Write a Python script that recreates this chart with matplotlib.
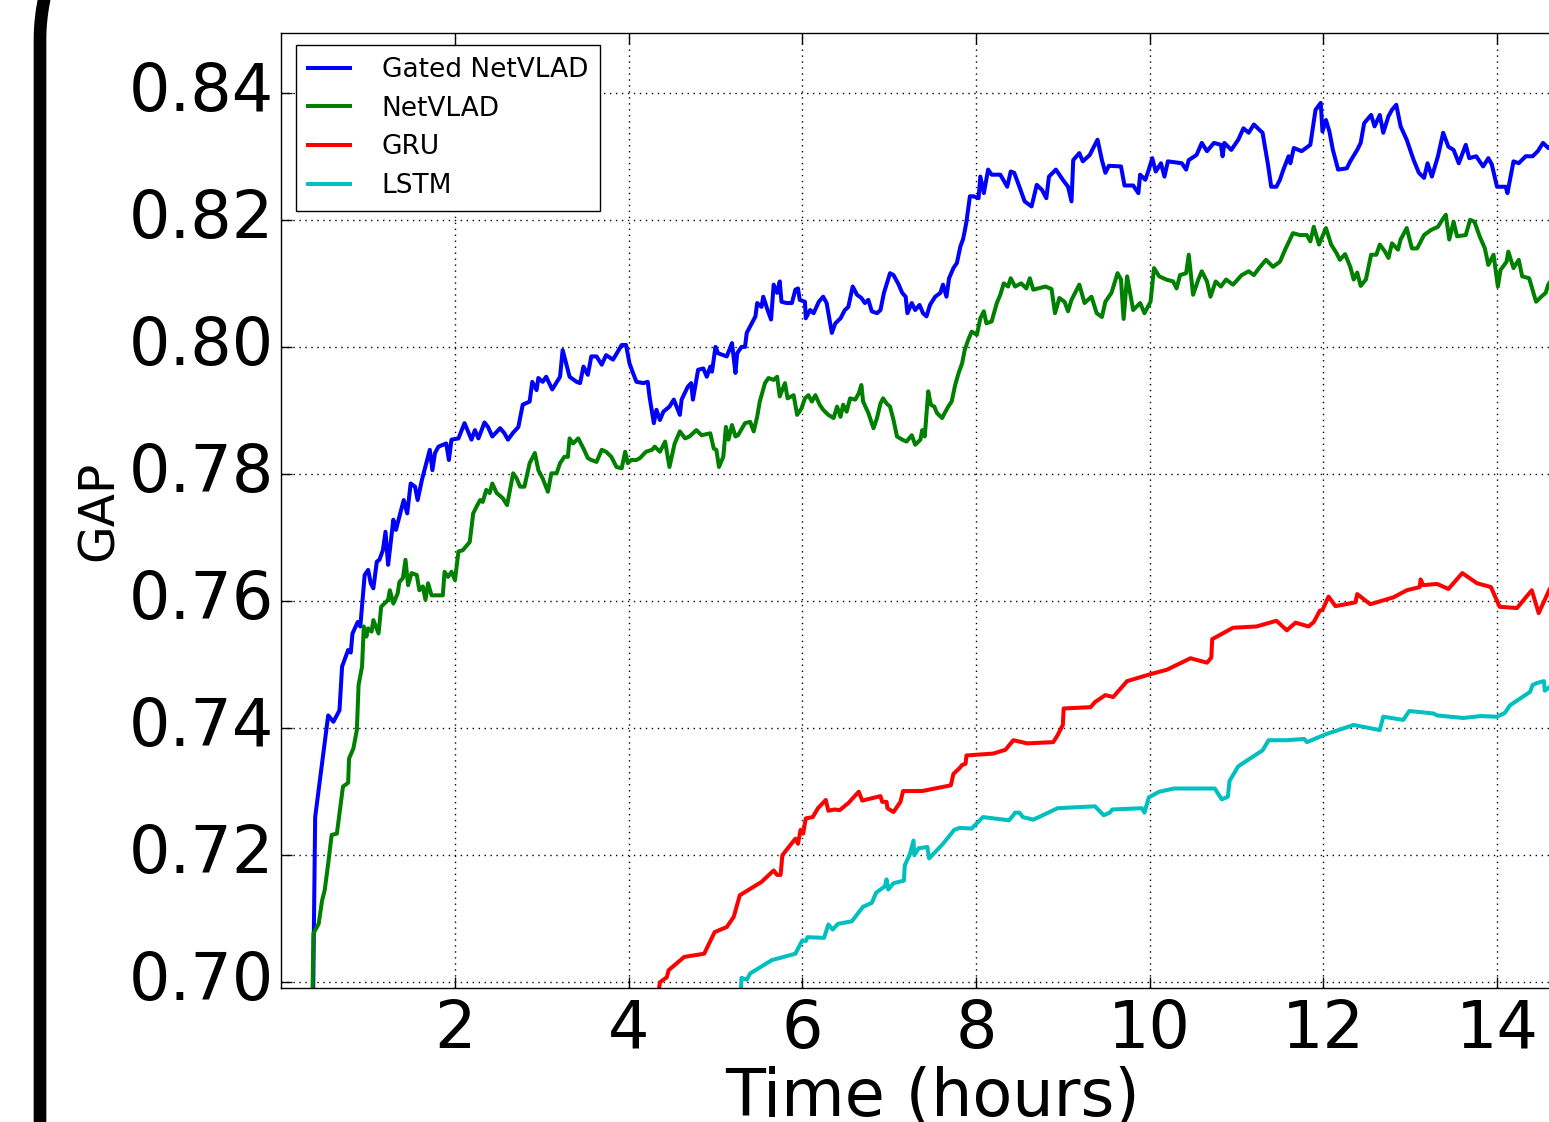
import numpy as np
import matplotlib
matplotlib.use("Agg")
import matplotlib.pyplot as plt
from matplotlib.lines import Line2D
from matplotlib.transforms import IdentityTransform

########################## data: GAP vs wall-clock training time ##########################
gated_hours = [
    0.36, 0.39, 0.54, 0.60, 0.67, 0.70, 0.77, 0.80, 0.82, 0.88,
    0.91, 0.96, 1.00, 1.03, 1.06, 1.10, 1.13, 1.17, 1.20, 1.23,
    1.25, 1.29, 1.32, 1.36, 1.41, 1.45, 1.49, 1.54, 1.57, 1.62,
    1.67, 1.71, 1.74, 1.77, 1.81, 1.90, 1.93, 1.96, 2.04, 2.11,
    2.19, 2.23, 2.27, 2.34, 2.38, 2.43, 2.52, 2.57, 2.61, 2.67,
    2.73, 2.78, 2.86, 2.89, 2.94, 2.96, 3.01, 3.05, 3.12, 3.21,
    3.24, 3.28, 3.32, 3.40, 3.44, 3.48, 3.53, 3.57, 3.63, 3.69,
    3.74, 3.82, 3.86, 3.92, 3.97, 4.01, 4.05, 4.09, 4.17, 4.22,
    4.24, 4.29, 4.32, 4.36, 4.40, 4.47, 4.52, 4.59, 4.61, 4.68,
    4.72, 4.74, 4.80, 4.86, 4.90, 4.94, 4.96, 5.00, 5.03, 5.13,
    5.19, 5.23, 5.25, 5.30, 5.34, 5.36, 5.46, 5.48, 5.53, 5.55,
    5.60, 5.64, 5.67, 5.71, 5.74, 5.76, 5.82, 5.88, 5.92, 5.95,
    5.97, 6.03, 6.04, 6.09, 6.13, 6.19, 6.24, 6.28, 6.34, 6.38,
    6.44, 6.49, 6.53, 6.58, 6.63, 6.68, 6.72, 6.76, 6.80, 6.86,
    6.90, 6.94, 7.01, 7.05, 7.11, 7.15, 7.19, 7.21, 7.26, 7.30,
    7.35, 7.39, 7.43, 7.47, 7.53, 7.59, 7.62, 7.66, 7.69, 7.74,
    7.78, 7.82, 7.85, 7.87, 7.89, 7.93, 7.97, 8.03, 8.05, 8.09,
    8.14, 8.18, 8.28, 8.36, 8.40, 8.44, 8.50, 8.56, 8.64, 8.70,
    8.76, 8.81, 8.84, 8.92, 9.00, 9.06, 9.10, 9.12, 9.19, 9.23,
    9.31, 9.35, 9.40, 9.45, 9.49, 9.53, 9.67, 9.71, 9.81, 9.87,
    9.89, 9.95, 9.99, 10.03, 10.07, 10.13, 10.17, 10.21, 10.37, 10.42,
    10.45, 10.54, 10.60, 10.66, 10.74, 10.82, 10.84, 10.86, 10.94, 11.02,
    11.08, 11.14, 11.20, 11.26, 11.30, 11.36, 11.40, 11.46, 11.50, 11.54,
    11.60, 11.62, 11.66, 11.75, 11.85, 11.91, 11.97, 11.99, 12.03, 12.07,
    12.11, 12.17, 12.27, 12.31, 12.39, 12.43, 12.47, 12.55, 12.59, 12.65,
    12.69, 12.75, 12.79, 12.84, 12.89, 12.96, 13.04, 13.10, 13.16, 13.20,
    13.25, 13.32, 13.38, 13.44, 13.50, 13.56, 13.64, 13.68, 13.76, 13.84,
    13.90, 13.94, 14.00, 14.10, 14.12, 14.19, 14.25, 14.33, 14.41, 14.47,
    14.53, 14.59, 14.65]
gated_gap = [
    0.690, 0.7260, 0.7420, 0.7410, 0.7428, 0.7497, 0.7523, 0.7519, 0.7549, 0.7567,
    0.7560, 0.7641, 0.7649, 0.7628, 0.7620, 0.7662, 0.7665, 0.7680, 0.7709, 0.7657,
    0.7680, 0.7728, 0.7712, 0.7733, 0.7759, 0.7738, 0.7785, 0.7780, 0.7759, 0.7791,
    0.7817, 0.7838, 0.7806, 0.7833, 0.7843, 0.7848, 0.7822, 0.7854, 0.7856, 0.7880,
    0.7854, 0.7869, 0.7856, 0.7881, 0.7874, 0.7859, 0.7872, 0.7864, 0.7854, 0.7865,
    0.7874, 0.7909, 0.7914, 0.7945, 0.7932, 0.7951, 0.7945, 0.7953, 0.7933, 0.7953,
    0.7995, 0.7974, 0.7953, 0.7945, 0.7943, 0.7969, 0.7956, 0.7985, 0.7985, 0.7972,
    0.7987, 0.7980, 0.7989, 0.8003, 0.8003, 0.7974, 0.7959, 0.7945, 0.7943, 0.7945,
    0.7922, 0.7880, 0.7901, 0.7885, 0.7898, 0.7906, 0.7917, 0.7893, 0.7917, 0.7937,
    0.7943, 0.7917, 0.7964, 0.7966, 0.7953, 0.7969, 0.7961, 0.8000, 0.7990, 0.7985,
    0.8006, 0.7959, 0.7990, 0.8000, 0.8000, 0.8022, 0.8048, 0.8069, 0.8063, 0.8079,
    0.8058, 0.8043, 0.8098, 0.8085, 0.8103, 0.8071, 0.8069, 0.8069, 0.8090, 0.8092,
    0.8074, 0.8071, 0.8045, 0.8058, 0.8053, 0.8071, 0.8079, 0.8069, 0.8022, 0.8037,
    0.8045, 0.8058, 0.8063, 0.8095, 0.8082, 0.8077, 0.8069, 0.8074, 0.8056, 0.8053,
    0.8058, 0.8085, 0.8116, 0.8113, 0.8098, 0.8085, 0.8079, 0.8053, 0.8069, 0.8058,
    0.8066, 0.8053, 0.8048, 0.8066, 0.8079, 0.8085, 0.8098, 0.8079, 0.8108, 0.8124,
    0.8132, 0.8158, 0.8169, 0.8182, 0.8197, 0.8237, 0.8237, 0.8234, 0.8268, 0.8242,
    0.8279, 0.8271, 0.8271, 0.8252, 0.8276, 0.8274, 0.8252, 0.8229, 0.8221, 0.8255,
    0.8247, 0.8234, 0.8268, 0.8279, 0.8263, 0.8252, 0.8229, 0.8294, 0.8305, 0.8292,
    0.8302, 0.8313, 0.8326, 0.8294, 0.8274, 0.8285, 0.8284, 0.8254, 0.8254, 0.8242,
    0.8271, 0.8263, 0.8279, 0.8297, 0.8276, 0.8289, 0.8268, 0.8292, 0.8289, 0.8279,
    0.8294, 0.8302, 0.8321, 0.8308, 0.8321, 0.8318, 0.8300, 0.8321, 0.8310, 0.8326,
    0.8344, 0.8337, 0.8350, 0.8342, 0.8337, 0.8289, 0.8252, 0.8252, 0.8263, 0.8279,
    0.8300, 0.8289, 0.8313, 0.8308, 0.8318, 0.8373, 0.8384, 0.8339, 0.8357, 0.8339,
    0.8310, 0.8279, 0.8281, 0.8292, 0.8310, 0.8321, 0.8352, 0.8365, 0.8347, 0.8365,
    0.8337, 0.8363, 0.8373, 0.8381, 0.8347, 0.8326, 0.8294, 0.8274, 0.8266, 0.8289,
    0.8268, 0.8300, 0.8337, 0.8315, 0.8310, 0.8289, 0.8318, 0.8297, 0.8300, 0.8284,
    0.8297, 0.8287, 0.8252, 0.8252, 0.8242, 0.8292, 0.8289, 0.8300, 0.8300, 0.8308,
    0.8321, 0.8313, 0.8320]

netvlad_hours = [
    0.35, 0.37, 0.43, 0.47, 0.50, 0.54, 0.58, 0.64, 0.68, 0.71,
    0.77, 0.78, 0.83, 0.87, 0.89, 0.93, 0.95, 0.98, 1.00, 1.04,
    1.06, 1.12, 1.15, 1.23, 1.25, 1.29, 1.34, 1.36, 1.40, 1.43,
    1.46, 1.50, 1.56, 1.59, 1.63, 1.66, 1.69, 1.73, 1.86, 1.88,
    1.92, 1.96, 2.00, 2.04, 2.09, 2.17, 2.21, 2.25, 2.29, 2.32,
    2.36, 2.40, 2.43, 2.48, 2.55, 2.60, 2.67, 2.71, 2.75, 2.80,
    2.86, 2.92, 2.96, 3.01, 3.07, 3.11, 3.17, 3.21, 3.26, 3.30,
    3.32, 3.36, 3.42, 3.48, 3.53, 3.57, 3.63, 3.69, 3.74, 3.80,
    3.86, 3.92, 3.96, 3.99, 4.03, 4.09, 4.13, 4.20, 4.27, 4.30,
    4.36, 4.42, 4.47, 4.53, 4.59, 4.65, 4.70, 4.78, 4.84, 4.94,
    4.98, 5.01, 5.04, 5.09, 5.12, 5.15, 5.19, 5.23, 5.26, 5.34,
    5.40, 5.44, 5.48, 5.51, 5.57, 5.61, 5.67, 5.71, 5.74, 5.80,
    5.83, 5.90, 5.94, 5.99, 6.03, 6.07, 6.11, 6.15, 6.20, 6.24,
    6.30, 6.36, 6.40, 6.44, 6.47, 6.51, 6.55, 6.61, 6.65, 6.68,
    6.70, 6.76, 6.82, 6.86, 6.90, 6.93, 6.97, 7.01, 7.05, 7.09,
    7.15, 7.20, 7.26, 7.30, 7.36, 7.38, 7.41, 7.45, 7.48, 7.52,
    7.55, 7.61, 7.64, 7.68, 7.72, 7.76, 7.80, 7.84, 7.87, 7.91,
    7.95, 8.01, 8.05, 8.09, 8.12, 8.18, 8.24, 8.28, 8.32, 8.37,
    8.40, 8.45, 8.52, 8.58, 8.62, 8.66, 8.80, 8.87, 8.91, 8.96,
    9.02, 9.06, 9.10, 9.19, 9.25, 9.33, 9.39, 9.45, 9.49, 9.56,
    9.63, 9.67, 9.70, 9.74, 9.81, 9.89, 9.94, 10.01, 10.05, 10.11,
    10.19, 10.27, 10.31, 10.35, 10.42, 10.45, 10.50, 10.56, 10.60, 10.66,
    10.70, 10.76, 10.82, 10.88, 10.96, 11.06, 11.14, 11.20, 11.26, 11.34,
    11.42, 11.50, 11.56, 11.65, 11.73, 11.81, 11.85, 11.89, 11.95, 12.03,
    12.09, 12.15, 12.19, 12.25, 12.31, 12.35, 12.39, 12.43, 12.49, 12.55,
    12.61, 12.65, 12.71, 12.75, 12.79, 12.86, 12.89, 12.96, 13.02, 13.08,
    13.16, 13.24, 13.32, 13.37, 13.41, 13.45, 13.50, 13.54, 13.64, 13.69,
    13.74, 13.80, 13.86, 13.90, 13.96, 14.01, 14.04, 14.11, 14.13, 14.19,
    14.25, 14.29, 14.37, 14.45, 14.51, 14.56, 14.59, 14.65]
netvlad_gap = [
    0.690, 0.7077, 0.7092, 0.7129, 0.7145, 0.7187, 0.7232, 0.7234, 0.7276, 0.7308,
    0.7314, 0.7352, 0.7368, 0.7397, 0.7468, 0.7497, 0.7560, 0.7544, 0.7557, 0.7552,
    0.7570, 0.7549, 0.7591, 0.7602, 0.7617, 0.7596, 0.7612, 0.7630, 0.7636, 0.7665,
    0.7625, 0.7644, 0.7641, 0.7617, 0.7623, 0.7602, 0.7628, 0.7609, 0.7609, 0.7646,
    0.7638, 0.7646, 0.7633, 0.7678, 0.7680, 0.7693, 0.7738, 0.7749, 0.7759, 0.7756,
    0.7775, 0.7770, 0.7785, 0.7770, 0.7762, 0.7751, 0.7801, 0.7793, 0.7780, 0.7780,
    0.7817, 0.7833, 0.7806, 0.7793, 0.7772, 0.7801, 0.7801, 0.7817, 0.7827, 0.7827,
    0.7856, 0.7848, 0.7856, 0.7840, 0.7825, 0.7822, 0.7819, 0.7838, 0.7835, 0.7827,
    0.7811, 0.7809, 0.7835, 0.7817, 0.7822, 0.7822, 0.7825, 0.7835, 0.7838, 0.7843,
    0.7835, 0.7851, 0.7811, 0.7848, 0.7867, 0.7856, 0.7859, 0.7869, 0.7861, 0.7864,
    0.7840, 0.7838, 0.7811, 0.7827, 0.7874, 0.7854, 0.7877, 0.7859, 0.7861, 0.7880,
    0.7882, 0.7867, 0.7890, 0.7914, 0.7943, 0.7951, 0.7948, 0.7953, 0.7922, 0.7943,
    0.7919, 0.7924, 0.7893, 0.7903, 0.7919, 0.7924, 0.7914, 0.7924, 0.7909, 0.7901,
    0.7893, 0.7888, 0.7906, 0.7890, 0.7909, 0.7898, 0.7919, 0.7917, 0.7927, 0.7940,
    0.7914, 0.7896, 0.7872, 0.7888, 0.7911, 0.7919, 0.7911, 0.7906, 0.7885, 0.7859,
    0.7854, 0.7851, 0.7861, 0.7846, 0.7854, 0.7869, 0.7859, 0.7930, 0.7909, 0.7906,
    0.7896, 0.7888, 0.7896, 0.7906, 0.7914, 0.7940, 0.7959, 0.7974, 0.7995, 0.8011,
    0.8024, 0.8019, 0.8045, 0.8056, 0.8037, 0.8040, 0.8069, 0.8082, 0.8100, 0.8095,
    0.8108, 0.8095, 0.8100, 0.8092, 0.8108, 0.8090, 0.8095, 0.8091, 0.8053, 0.8077,
    0.8071, 0.8056, 0.8074, 0.8098, 0.8069, 0.8079, 0.8053, 0.8047, 0.8071, 0.8085,
    0.8116, 0.8106, 0.8044, 0.8111, 0.8058, 0.8069, 0.8053, 0.8071, 0.8124, 0.8111,
    0.8106, 0.8103, 0.8092, 0.8113, 0.8116, 0.8145, 0.8082, 0.8106, 0.8119, 0.8103,
    0.8079, 0.8103, 0.8095, 0.8106, 0.8098, 0.8113, 0.8119, 0.8113, 0.8124, 0.8137,
    0.8126, 0.8134, 0.8153, 0.8179, 0.8176, 0.8176, 0.8166, 0.8189, 0.8161, 0.8187,
    0.8161, 0.8148, 0.8137, 0.8146, 0.8126, 0.8106, 0.8117, 0.8096, 0.8106, 0.8145,
    0.8145, 0.8161, 0.8150, 0.8140, 0.8163, 0.8153, 0.8169, 0.8187, 0.8155, 0.8155,
    0.8176, 0.8184, 0.8189, 0.8200, 0.8208, 0.8169, 0.8197, 0.8174, 0.8176, 0.8200,
    0.8197, 0.8174, 0.8155, 0.8129, 0.8145, 0.8095, 0.8121, 0.8134, 0.8150, 0.8124,
    0.8137, 0.8111, 0.8108, 0.8071, 0.8079, 0.8085, 0.8098, 0.8110]

gru_hours = [
    4.34, 4.36, 4.44, 4.46, 4.64, 4.87, 4.99, 5.13, 5.21, 5.28,
    5.53, 5.67, 5.71, 5.75, 5.77, 5.92, 5.95, 5.98, 6.01, 6.04,
    6.12, 6.18, 6.27, 6.30, 6.37, 6.43, 6.53, 6.65, 6.69, 6.90,
    6.92, 6.97, 6.98, 7.05, 7.13, 7.16, 7.38, 7.71, 7.74, 7.81,
    7.84, 7.88, 7.89, 8.20, 8.34, 8.43, 8.59, 8.89, 8.94, 9.00,
    9.01, 9.32, 9.37, 9.49, 9.58, 9.74, 10.01, 10.20, 10.47, 10.66,
    10.71, 10.72, 10.96, 11.23, 11.46, 11.58, 11.68, 11.83, 11.89, 11.96,
    11.99, 12.06, 12.14, 12.37, 12.39, 12.54, 12.81, 12.96, 13.11, 13.12,
    13.15, 13.31, 13.44, 13.60, 13.77, 13.93, 14.03, 14.23, 14.40, 14.48,
    14.60, 14.65]
gru_gap = [
    0.698, 0.7000, 0.7008, 0.7019, 0.7040, 0.7045, 0.7079, 0.7087, 0.7103, 0.7137,
    0.7158, 0.7176, 0.7169, 0.7169, 0.7200, 0.7226, 0.7218, 0.7240, 0.7234, 0.7258,
    0.7260, 0.7274, 0.7287, 0.7270, 0.7272, 0.7271, 0.7282, 0.7300, 0.7286, 0.7293,
    0.7284, 0.7284, 0.7274, 0.7268, 0.7284, 0.7301, 0.7301, 0.7310, 0.7328, 0.7337,
    0.7342, 0.7344, 0.7357, 0.7360, 0.7366, 0.7381, 0.7376, 0.7378, 0.7389, 0.7405,
    0.7431, 0.7433, 0.7441, 0.7452, 0.7449, 0.7474, 0.7485, 0.7492, 0.7510, 0.7503,
    0.7511, 0.7540, 0.7558, 0.7560, 0.7569, 0.7554, 0.7566, 0.7560, 0.7567, 0.7585,
    0.7586, 0.7607, 0.7592, 0.7598, 0.7611, 0.7595, 0.7606, 0.7617, 0.7622, 0.7634,
    0.7625, 0.7627, 0.7619, 0.7644, 0.7628, 0.7622, 0.7591, 0.7589, 0.7617, 0.7581,
    0.7617, 0.7630]

lstm_hours = [
    5.29, 5.30, 5.36, 5.40, 5.65, 5.92, 6.00, 6.04, 6.06, 6.25,
    6.30, 6.35, 6.41, 6.57, 6.70, 6.80, 6.85, 6.95, 6.97, 6.99,
    7.05, 7.17, 7.18, 7.24, 7.28, 7.29, 7.34, 7.44, 7.46, 7.62,
    7.75, 7.81, 7.95, 8.08, 8.38, 8.43, 8.45, 8.50, 8.54, 8.66,
    8.94, 9.37, 9.47, 9.54, 9.57, 9.91, 9.94, 9.99, 10.11, 10.28,
    10.43, 10.75, 10.83, 10.90, 10.92, 11.02, 11.30, 11.37, 11.58, 11.78,
    11.81, 12.04, 12.35, 12.65, 12.69, 12.92, 12.99, 13.27, 13.31, 13.61,
    13.81, 14.00, 14.09, 14.15, 14.38, 14.41, 14.46, 14.54, 14.55, 14.60,
    14.65]
lstm_gap = [
    0.698, 0.7007, 0.7004, 0.7014, 0.7035, 0.7045, 0.7066, 0.7065, 0.7071, 0.7070,
    0.7091, 0.7083, 0.7092, 0.7096, 0.7119, 0.7125, 0.7141, 0.7151, 0.7162, 0.7146,
    0.7156, 0.7160, 0.7184, 0.7202, 0.7223, 0.7200, 0.7211, 0.7213, 0.7195, 0.7218,
    0.7240, 0.7243, 0.7242, 0.7260, 0.7255, 0.7263, 0.7267, 0.7267, 0.7260, 0.7256,
    0.7274, 0.7277, 0.7263, 0.7267, 0.7272, 0.7274, 0.7267, 0.7291, 0.7300, 0.7305,
    0.7305, 0.7305, 0.7288, 0.7292, 0.7317, 0.7340, 0.7365, 0.7381, 0.7381, 0.7383,
    0.7378, 0.7391, 0.7405, 0.7397, 0.7418, 0.7413, 0.7427, 0.7423, 0.7420, 0.7416,
    0.7419, 0.7418, 0.7424, 0.7436, 0.7457, 0.7468, 0.7471, 0.7474, 0.7459, 0.7464,
    0.7470]

x_ticks = [2, 4, 6, 8, 10, 12, 14]
y_ticks = [0.70, 0.72, 0.74, 0.76, 0.78, 0.80, 0.82, 0.84]
y_tick_labels = ["0.70", "0.72", "0.74", "0.76", "0.78", "0.80", "0.82", "0.84"]

########################## figure #####################################
fig = plt.figure(figsize=(15.49, 11.22), dpi=100)
ax = fig.add_axes([0.1816, 0.1194, 0.8409, 0.8512])

lw = 2.9
ax.plot(gated_hours, gated_gap, color="#0000ff", lw=lw, label="Gated NetVLAD")
ax.plot(netvlad_hours, netvlad_gap, color="#008000", lw=lw, label="NetVLAD")
ax.plot(gru_hours, gru_gap, color="#ff0000", lw=lw, label="GRU")
ax.plot(lstm_hours, lstm_gap, color="#00bfbf", lw=lw, label="LSTM")

ax.set_xlim(0, 15)
ax.set_ylim(0.6991, 0.8494)
ax.set_xticks(x_ticks)
ax.set_yticks(y_ticks)
ax.set_yticklabels(y_tick_labels)
ax.tick_params(direction="in", length=8, width=1, top=True, right=True,
               labelsize=47)
ax.tick_params(axis="y", pad=5.5)
ax.tick_params(axis="x", pad=7)
plt.setp(ax.get_yticklabels(), va="center")

ax.grid(True, color="k", linestyle=(0, (1, 3.3)), linewidth=1.0)
for sp in ax.spines.values():
    sp.set_linewidth(1.0)

ax.set_xlabel("Time (hours)", fontsize=47)
ax.xaxis.set_label_coords(0.5, -0.082)
ax.set_ylabel("GAP", fontsize=35)
ax.yaxis.set_label_coords(-0.122, 0.5)

leg = ax.legend(loc="upper left", bbox_to_anchor=(0.0113, 0.9874),
                fontsize=19, fancybox=False, framealpha=1, edgecolor="k",
                handlelength=1.6, handletextpad=1.2, labelspacing=0.48,
                borderpad=0.45, borderaxespad=0.0)
leg.get_frame().set_linewidth(1.0)

# thick page border down the left side, rounding off at the top-left corner
W, H = fig.bbox.width, fig.bbox.height
R = 200.0
x_edge, y_turn = 40.0, H - 40.0
t = np.linspace(np.pi, np.pi / 2, 60)
bx = np.concatenate([[x_edge], x_edge + R + R * np.cos(t), [W + 100]])
by = np.concatenate([[-50], y_turn + R * np.sin(t), [y_turn + R]])
fig.add_artist(Line2D(bx, by, transform=IdentityTransform(), lw=9.1,
                      color="k", solid_capstyle="butt"))

fig.savefig("out.png", dpi=100)
